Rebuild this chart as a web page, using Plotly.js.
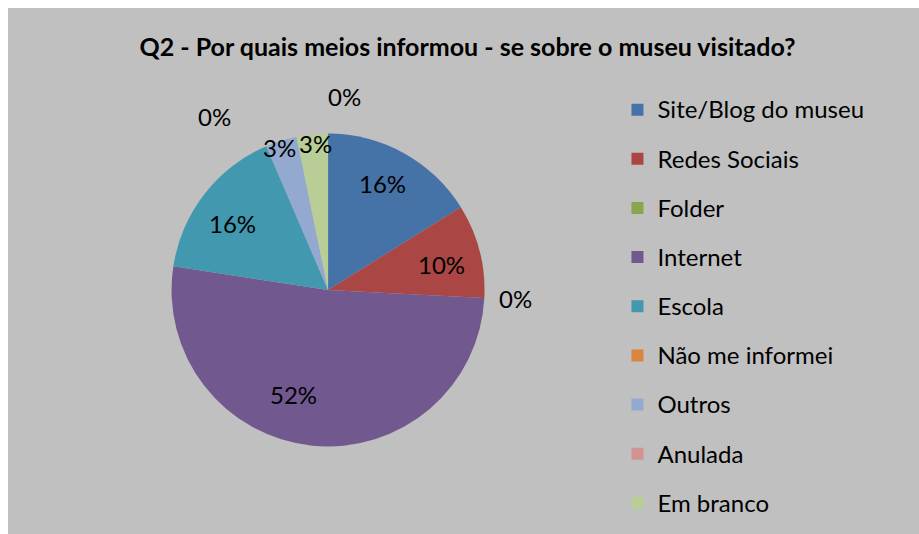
<!DOCTYPE html>
<html>
<head>
<meta charset="utf-8">
<script src="https://cdn.plot.ly/plotly-3.0.1.min.js"></script>
<style>
  html, body { margin: 0; padding: 0; background: #ffffff; }
  #chart { position: absolute; left: 8px; top: 8px; width: 911px; height: 526px; }
</style>
</head>
<body>
<div id="chart"></div>
<script>
// ---- data (respondent counts; 31 answers) ----
const categories = ["Site/Blog do museu", "Redes Sociais", "Folder", "Internet", "Escola",
                    "Não me informei", "Outros", "Anulada", "Em branco"];
const counts = [5, 3, 0, 16, 5, 0, 1, 0, 1];
const colors = ["#4572A7", "#AA4643", "#89A54E", "#71588F", "#4198AF",
                "#DB843D", "#93A9CF", "#D19392", "#B9CD96"];
const chartTitle = "Q2 - Por quais meios informou - se sobre o museu visitado?";

// ---- derived ----
const total = counts.reduce((a, b) => a + b, 0);
const pct = v => Math.round(v / total * 100) + "%";
const legendLabels = categories.map(c =>
  '<span style="font-size:24px;baseline-shift:5px">' + c + '</span>');

// data-label placements (layout, paper coords), as positioned in the original chart
const labelPlacement = [
  { cat: "Site/Blog do museu", x: 0.4111, y: 0.6654 },
  { cat: "Redes Sociais", x: 0.476, y: 0.5133 },
  { cat: "Folder", x: 0.5576, y: 0.4468 },
  { cat: "Internet", x: 0.3134, y: 0.2643 },
  { cat: "Escola", x: 0.2459, y: 0.5903 },
  { cat: "Não me informei", x: 0.2272, y: 0.7928 },
  { cat: "Outros", x: 0.2975, y: 0.7357 },
  { cat: "Anulada", x: 0.3699, y: 0.8308 },
  { cat: "Em branco", x: 0.337, y: 0.7433 }
];
const annotations = labelPlacement.map(e => ({
  text: pct(counts[categories.indexOf(e.cat)]),
  xref: "paper", yref: "paper", x: e.x, y: e.y,
  xanchor: "center", yanchor: "middle", showarrow: false,
  font: { family: "Lato, sans-serif", size: 24, color: "#000000" }
}));

const trace = {
  type: "pie",
  labels: legendLabels,
  values: counts,
  sort: false,
  direction: "clockwise",
  rotation: 0,
  marker: { colors: colors, line: { width: 0 } },
  textinfo: "none",
  hoverinfo: "label+value+percent",
  domain: { x: [0.1795, 0.5231], y: [0.1664, 0.7614] }
};

const layout = {
  width: 911, height: 526,
  margin: { l: 0, r: 0, t: 0, b: 0, autoexpand: false },
  paper_bgcolor: "#c0c0c0",
  plot_bgcolor: "#c0c0c0",
  font: { family: "Lato, sans-serif", color: "#000000" },
  title: {
    text: "<b>" + chartTitle + "</b>",
    font: { family: "Lato, sans-serif", size: 25, color: "#000000" },
    x: 0.5044, xanchor: "center", xref: "container",
    y: 0.926, yanchor: "middle", yref: "container"
  },
  showlegend: true,
  legend: {
    x: 0.669, xanchor: "left",
    y: 0.863, yanchor: "top",
    bgcolor: "rgba(0,0,0,0)",
    font: { family: "Lato, sans-serif", size: 35.5, color: "#000000" },
    traceorder: "normal"
  },
  annotations: annotations
};

Plotly.newPlot("chart", [trace], layout, { displayModeBar: false, staticPlot: true });
</script>
</body>
</html>
